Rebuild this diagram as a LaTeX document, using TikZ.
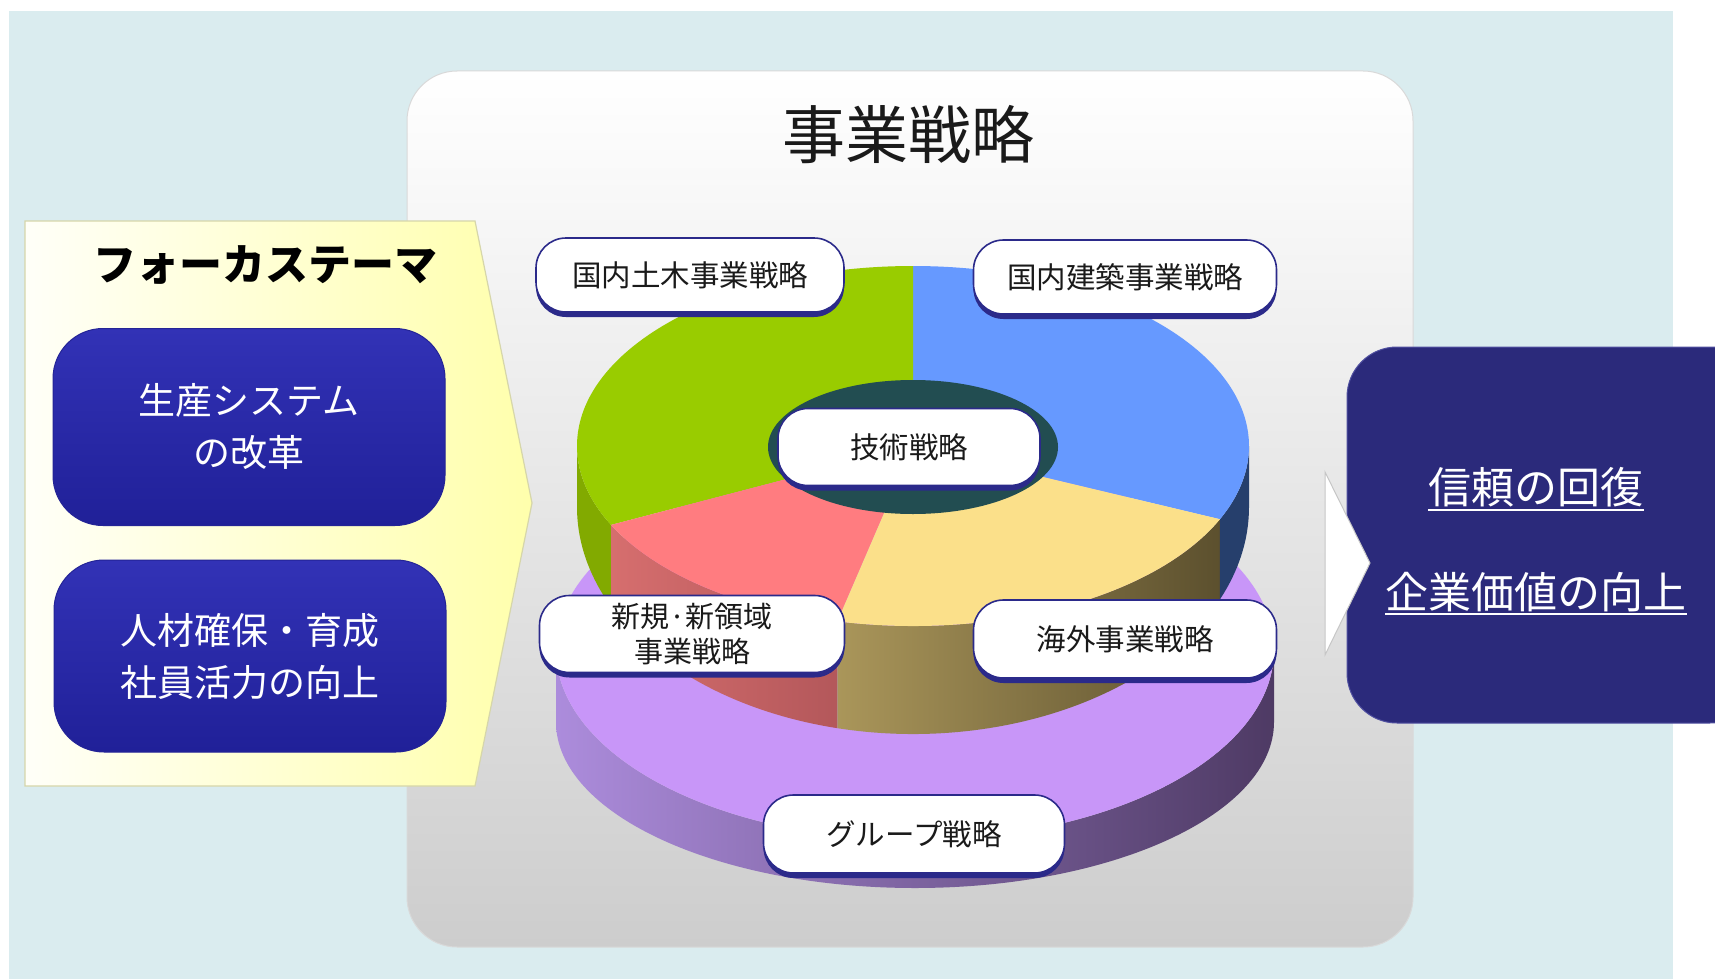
\documentclass[tikz,border=0pt]{standalone}
\usepackage{fontspec}
\setmainfont{Noto Sans CJK JP}
\usetikzlibrary{calc,shadows}
\definecolor{bgblue}{RGB}{218,236,239}
\definecolor{lblc}{RGB}{43,42,138}
\definecolor{txt}{RGB}{26,26,26}
\definecolor{pgreen}{RGB}{153,204,0}
\definecolor{pblue}{RGB}{102,153,255}
\definecolor{pyellow}{RGB}{251,224,138}
\definecolor{pred}{RGB}{255,124,128}
\definecolor{techc}{RGB}{34,77,81}
\definecolor{sgreen}{RGB}{130,170,0}
\definecolor{sredL}{RGB}{214,110,110}
\definecolor{sredR}{RGB}{168,80,84}
\definecolor{syelL}{RGB}{170,150,90}
\definecolor{syelR}{RGB}{92,80,46}
\definecolor{sblue}{RGB}{38,63,108}
\definecolor{purtop}{RGB}{200,150,248}
\definecolor{pursL}{RGB}{172,140,220}
\definecolor{pursR}{RGB}{78,58,100}
\definecolor{boxtop}{RGB}{50,50,182}
\definecolor{boxbot}{RGB}{32,32,152}
\definecolor{boxedge}{RGB}{36,36,150}
\definecolor{navybox}{RGB}{43,42,123}
\definecolor{navyedge}{RGB}{80,80,160}
\definecolor{yelL}{RGB}{255,255,248}
\definecolor{yelM}{RGB}{255,255,196}
\definecolor{yelR}{RGB}{255,255,172}
\definecolor{yeledge}{RGB}{214,214,170}
\definecolor{panmid}{RGB}{242,242,242}
\definecolor{panbot}{RGB}{205,205,205}
\newcommand\pieSide[3]{\path[#3] (913,-446) ++(#1:336 and 180) arc[start angle=#1,end angle=#2,x radius=336,y radius=180] -- ($(913,-507)+(#2:336 and 227)$) arc[start angle=#2,end angle=#1,x radius=336,y radius=227] -- cycle;}
\newcommand\pieTop[3]{\fill[#3] (913,-446) -- ++(#1:336 and 180) arc[start angle=#1,end angle=#2,x radius=336,y radius=180] -- cycle;}
\begin{document}
\begin{tikzpicture}[x=1pt,y=1pt,
  pill/.style={draw=lblc, line width=1.6pt, fill=white, rounded corners=30pt,
    align=center, text=txt, font=\fontsize{29.5}{35}\selectfont, inner sep=0pt,
    drop shadow={shadow xshift=0pt, shadow yshift=-5pt, fill=lblc, opacity=1}},
  bluebox/.style={draw=boxedge, line width=1pt, rounded corners=50pt,
    top color=boxtop, bottom color=boxbot, text=white, align=center,
    font=\fontsize{37}{52}\selectfont, minimum width=392pt, minimum height=197pt, inner sep=0pt},
  restext/.style={text=white, inner sep=0pt, font=\fontsize{43}{50}\selectfont},
  ]
\useasboundingbox (0,0) rectangle (1715,-979);
\clip (0,0) rectangle (1715,-979);
% background
\fill[bgblue] (9,-11) rectangle (1673,-979);
% main panel
\path[draw=gray!30, line width=1pt, rounded corners=50pt, top color=white, middle color=panmid, bottom color=panbot]
  (407,-71) rectangle (1413,-947);
\node[font=\fontsize{63}{70}\selectfont, text=txt] (title) at (908,-135) {事業戦略};
% purple group disc
\path[left color=pursL, right color=pursR] (556,-650) -- (556,-722)
  arc[start angle=180,end angle=360,x radius=359,y radius=166] -- (1274,-650)
  arc[start angle=360,end angle=180,x radius=359,y radius=190] -- cycle;
\fill[purtop] (915,-650) ellipse [x radius=359, y radius=190];
% pie sides
\pieSide{180}{206}{fill=sgreen}
\pieSide{206}{257}{left color=sredL, right color=sredR}
\pieSide{257}{336}{left color=syelL, right color=syelR}
\pieSide{336}{360}{fill=sblue}
% pie top
\pieTop{-24}{90}{pblue}
\pieTop{90}{206}{pgreen}
\pieTop{206}{257}{pred}
\pieTop{257}{336}{pyellow}
\fill[techc] (913,-447) ellipse [x radius=145, y radius=67];
% labels
\node[pill, minimum width=308pt, minimum height=74pt] (civil) at (690,-275) {国内土木事業戦略};
\node[pill, minimum width=303pt, minimum height=74pt] (arch) at (1125,-277) {国内建築事業戦略};
\node[pill, minimum width=262pt, minimum height=77pt] (tech) at (909,-447) {技術戦略};
\node[pill, minimum width=305pt, minimum height=77pt, font=\fontsize{29}{35}\selectfont] (new) at (692,-634) {新規·新領域\\事業戦略};
\node[pill, minimum width=303pt, minimum height=78pt] (over) at (1125,-639) {海外事業戦略};
\node[pill, minimum width=301pt, minimum height=78pt] (group) at (914,-834) {グループ戦略};
% focus arrow
\path[draw=yeledge, line width=1.2pt, left color=yelL, middle color=yelM, right color=yelR]
  (25,-221) -- (475,-221) -- (532,-503) -- (475,-786) -- (25,-786) -- cycle;
\node[font=\bfseries\fontsize{43}{52}\selectfont, text=black] (focus) at (265,-265) {フォーカステーマ};
\node[bluebox] (prod) at (249,-427) {生産システム\\の改革};
\node[bluebox, minimum height=192pt] (hr) at (250,-656) {人材確保・育成\\社員活力の向上};
% result box
\node[draw=navyedge, line width=1pt, fill=navybox, rounded corners=50pt, minimum width=413pt, minimum height=376pt] (res) at (1553.5,-535) {};
\path[fill=white, draw=gray!45, line width=1pt] (1325,-472) -- (1370,-563) -- (1325,-655) -- cycle;
\node[restext] (r1) at (1536,-487) {信頼の回復};
\node[restext] (r2) at (1536,-592) {企業価値の向上};
\draw[white, line width=1.8pt] ([yshift=-23pt]r1.west) -- ([yshift=-23pt]r1.east);
\draw[white, line width=1.8pt] ([yshift=-22pt]r2.west) -- ([yshift=-22pt]r2.east);
\end{tikzpicture}
\end{document}
